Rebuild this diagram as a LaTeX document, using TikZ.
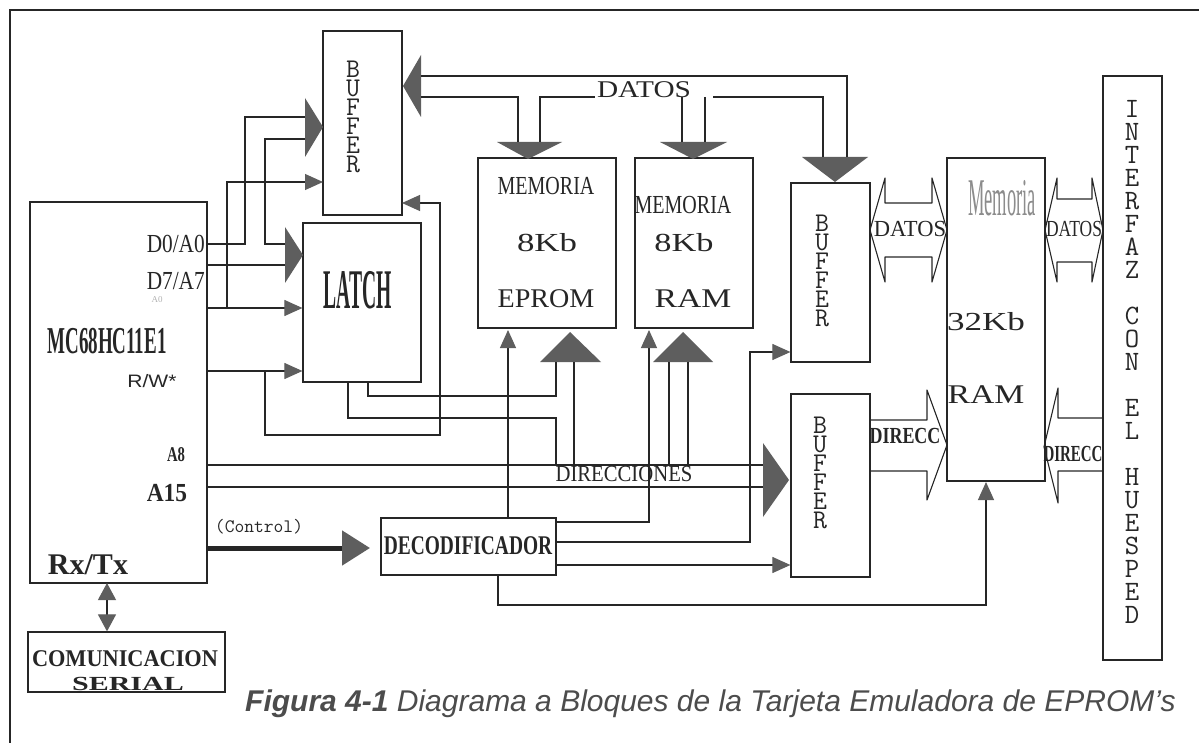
\documentclass[tikz,border=0pt]{standalone}
\usepackage{fontspec}
\setmainfont{Liberation Serif}
\newfontfamily\arialf{Liberation Sans}
\usepackage{graphicx}
\usepackage{tikz}
\usetikzlibrary{arrows.meta}
\definecolor{ink}{HTML}{262626}
\definecolor{headc}{HTML}{5E5E5E}
\newcommand{\sqz}[3]{\scalebox{#2}[1]{\fontsize{#1}{#1}\selectfont #3}}

\begin{document}
\begin{tikzpicture}[x=1pt,y=-1pt,
  box/.style={draw=ink,line width=1.2pt,inner sep=0pt},
  wire/.style={draw=ink,line width=1.1pt},
  sarrow/.style={wire,-{Triangle[length=18pt,width=16pt,color=headc]}},
  dblarrow/.style={wire,{Triangle[length=17pt,width=18pt,color=headc]}-{Triangle[length=17pt,width=18pt,color=headc]}},
  ctlline/.style={draw=ink,line width=5pt,-{Triangle[length=28pt,width=34pt,color=headc]}},
  bushead/.style={fill=headc},
  blockarr/.style={draw=ink,line width=1.1pt,line join=round},
  lbl/.style={inner sep=0pt,text=ink},
  stackl/.style={lbl,align=center,font=\ttfamily\fontsize{27}{19}\selectfont},
  hostl/.style={lbl,align=center,font=\ttfamily\fontsize{28}{23}\selectfont},
]
\useasboundingbox (0,0) rectangle (1199,743);
\draw[wire] (10,743) -- (10,10) -- (1199,10);

% blocks
\node[box,minimum width=177pt,minimum height=381pt] (mcu)    at (118.5,392.5) {};
\node[box,minimum width=79pt, minimum height=184pt] (buf1)   at (362.5,123) {};
\node[box,minimum width=118pt,minimum height=159pt] (latch)  at (362,302.5) {};
\node[box,minimum width=138pt,minimum height=170pt] (eprom)  at (547,243) {};
\node[box,minimum width=118pt,minimum height=170pt] (ram8)   at (694,243) {};
\node[box,minimum width=79pt, minimum height=179pt] (buf2)   at (830.5,272.5) {};
\node[box,minimum width=79pt, minimum height=183pt] (buf3)   at (830.5,485.5) {};
\node[box,minimum width=98pt, minimum height=323pt] (ram32)  at (996,319.5) {};
\node[box,minimum width=59pt, minimum height=584pt] (host)   at (1132.5,368) {};
\node[box,minimum width=175pt,minimum height=57pt]  (dec)    at (468.5,546.5) {};
\node[box,minimum width=197pt,minimum height=60pt]  (serial) at (126.5,662) {};

% texts in the blocks
\node[lbl] (tMcu)   at (107,341) {\bfseries\sqz{38}{0.50}{MC68HC11E1}};
\node[lbl,anchor=east] (tD0) at (205,244) {\sqz{26}{0.82}{D0/A0}};
\node[lbl,anchor=east] (tD7) at (205,281) {\sqz{26}{0.82}{D7/A7}};
\node[lbl,text=black!30] (tA0) at (157,300) {\sqz{9}{1}{A0}};
\node[lbl] (tRW)    at (152,381) {\arialf\sqz{18}{1.17}{R/W*}};
\node[lbl] (tA8)    at (176,455) {\bfseries\sqz{21}{0.7}{A8}};
\node[lbl] (tA15)   at (167,493) {\bfseries\sqz{26}{0.9}{A15}};
\node[lbl] (tRx)    at (88,565)  {\bfseries\sqz{30}{1.0}{Rx/Tx}};
\node[lbl] (tLatch) at (358,290) {\bfseries\sqz{56}{0.35}{LATCH}};
\node[stackl] (tBuf1) at (353,117) {B\\U\\F\\F\\E\\R};
\node[stackl] (tBuf2) at (822,271) {B\\U\\F\\F\\E\\R};
\node[stackl] (tBuf3) at (820,473) {B\\U\\F\\F\\E\\R};
\node[lbl] (tMemE)  at (546,186) {\sqz{26}{0.77}{MEMORIA}};
\node[lbl] (tKbE)   at (547,243) {\sqz{26}{1.34}{8Kb}};
\node[lbl] (tEprom) at (546,299) {\sqz{27}{1.04}{EPROM}};
\node[lbl] (tMemR)  at (683,205) {\sqz{26}{0.77}{MEMORIA}};
\node[lbl] (tKbR)   at (684,243) {\sqz{26}{1.32}{8Kb}};
\node[lbl] (tRam)   at (693,299) {\sqz{27}{1.25}{RAM}};
\node[lbl,text=black!45] (tMem32) at (1002,198) {\sqz{53}{0.35}{Memoria}};
\node[lbl] (tKb32)  at (986,322) {\sqz{26}{1.35}{32Kb}};
\node[lbl] (tRam32) at (986,395) {\sqz{27}{1.25}{RAM}};
\node[lbl] (tDec)   at (468,546) {\bfseries\sqz{27}{0.72}{DECODIFICADOR}};
\node[lbl] (tCom)   at (125,659) {\bfseries\sqz{24}{0.93}{COMUNICACION}};
\node[lbl] (tSer)   at (128,684) {\bfseries\sqz{20}{1.5}{SERIAL}};
\node[hostl] (tHost) at (1132,362)
  {I\\N\\T\\E\\R\\F\\A\\Z\\ \\C\\O\\N\\ \\E\\L\\ \\H\\U\\E\\S\\P\\E\\D};

% pins of the micro
\coordinate (pD0)  at (207,244);
\coordinate (pD7)  at (207,265);
\coordinate (pA0)  at (207,308);
\coordinate (pRW)  at (207,371);
\coordinate (pA8)  at (207,465);
\coordinate (pA15) at (207,487);
\coordinate (pCtl) at (207,548);
\coordinate (pRx)  at (107,583);

% bus heads
\fill[bushead] (323,127) -- (305,98)  -- (305,157) -- cycle;
\fill[bushead] (303,255) -- (285,227) -- (285,283) -- cycle;
\fill[bushead] (403,86)  -- (421,55)  -- (421,117) -- cycle;
\fill[bushead] (528,159) -- (497,142) -- (562,142) -- cycle;
\fill[bushead] (693,159) -- (660,142) -- (727,142) -- cycle;
\fill[bushead] (835,182) -- (802,157) -- (868,157) -- cycle;
\fill[bushead] (570,332) -- (540,362) -- (601,362) -- cycle;
\fill[bushead] (683,332) -- (653,362) -- (713,362) -- cycle;
\fill[bushead] (789,480) -- (763,443) -- (763,517) -- cycle;

% D0..D7 / A0..A7 to buffer and latch
\draw[wire] (pD0) -| (245,117) -- (305,117);
\draw[wire] (285,244) -| (265,139) -- (305,139);
\draw[wire] (pD7) -- (285,265);
\coordinate (b1in)   at (323,182);
\coordinate (b1back) at (402,203);
\draw[sarrow] (pA0) -- (latch.west |- pA0);
\draw[sarrow] (227,308) |- (b1in);
\draw[sarrow] (pRW) -- (latch.west |- pRW);
\draw[sarrow] (265,371) |- (440,435) |- (b1back);

% latch outputs
\draw[wire] (368,382) |- (556,396) -- (556,362);
\draw[wire] (348,382) |- (556,418) -- (556,465);

% address bus
\draw[wire] (pA8)  -- (763,465);
\draw[wire] (pA15) -- (763,487);
\draw[wire] (574,465) -- (574,362);
\draw[wire] (669,465) -- (669,362);
\draw[wire] (688,465) -- (688,362);
\node[lbl] (tDir) at (624,474) {\sqz{23}{0.9}{DIRECCIONES}};

% data bus
\draw[wire] (421,76) -| (847,157);
\draw[wire] (421,97) -| (518,142);
\draw[wire] (540,142) |- (595,97);
\draw[wire] (682,97) -- (682,142);
\draw[wire] (705,97) -- (705,142);
\draw[wire] (713,97) -| (823,157);
\node[lbl] (tDatos) at (644,90) {\sqz{24}{1.22}{DATOS}};

% decoder
\coordinate (decIn) at (370,548);
\draw[ctlline] (pCtl) -- (decIn);
\node[lbl] (tCtl) at (259,527) {\ttfamily\sqz{19}{1}{(Control)}};
\draw[sarrow] (508,518) -- (508,330);
\draw[sarrow] (556,522) -| (649,330);
\draw[sarrow] (556,542) -| (750,352) -- (buf2.west |- 0,352);
\draw[sarrow] (556,565) -- (buf3.west |- 0,565);
\draw[sarrow] (498,575) |- (986,605) -- (986,482);

% serial link
\draw[dblarrow] (pRx) -- (serial.north -| pRx);

% wide buses to the 32Kb RAM
\draw[blockarr] (870,230) -- (885,178) -- (885,203) -- (932,203) -- (932,178)
  -- (947,230) -- (932,282) -- (932,257) -- (885,257) -- (885,282) -- cycle;
\node[lbl] (tDat1) at (910,229) {\sqz{23}{0.98}{DATOS}};
\draw[blockarr] (1045,230) -- (1057,178) -- (1057,199) -- (1092,199) -- (1092,178)
  -- (1103,230) -- (1092,282) -- (1092,262) -- (1057,262) -- (1057,282) -- cycle;
\node[lbl] (tDat2) at (1074,229) {\sqz{23}{0.76}{DATOS}};
\draw[blockarr] (870,420) -- (927,420) -- (927,390) -- (947,445) -- (927,500)
  -- (927,471) -- (870,471);
\node[lbl] (tDir1) at (905,436) {\bfseries\sqz{23}{0.78}{DIRECC}};
\draw[blockarr] (1103,418) -- (1058,418) -- (1058,388) -- (1044,447) -- (1058,503)
  -- (1058,471) -- (1103,471);
\node[lbl] (tDir2) at (1073,454) {\bfseries\sqz{23}{0.65}{DIRECC}};

\node[lbl,anchor=base west,text=black!70,font=\arialf\itshape\fontsize{30}{30}\selectfont]
  (cap) at (245,711) {\textbf{Figura 4-1} Diagrama a Bloques de la Tarjeta Emuladora de EPROM’s};
\end{tikzpicture}
\end{document}
